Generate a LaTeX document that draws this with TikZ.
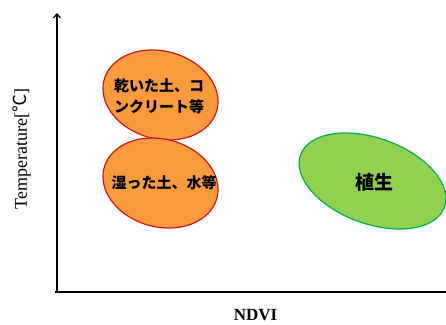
\documentclass[tikz,border=0pt]{standalone}
\usepackage{fontspec}
\setmainfont{Liberation Serif}
\newfontfamily\jp{Noto Sans CJK JP}
\usetikzlibrary{arrows.meta}
\definecolor{orfill}{HTML}{F89B3C}
\definecolor{ordraw}{HTML}{D01818}
\definecolor{grfill}{HTML}{92D050}
\definecolor{grdraw}{HTML}{00B050}
\tikzset{
  orblob/.style={fill=orfill,draw=ordraw,line width=1.2pt},
  grblob/.style={fill=grfill,draw=grdraw,line width=1.2pt},
  jptext/.style={font=\jp\bfseries\fontsize{15}{21}\selectfont,align=center,inner sep=0pt},
  axislabel/.style={inner sep=0pt}
}
\begin{document}
\begin{tikzpicture}[x=1pt,y=-1pt]
\useasboundingbox (0,0) rectangle (446,324);
% axes
\coordinate (o) at (57,292);
\coordinate (ytop) at (57,13);
\coordinate (xo) at (55,292);
\coordinate (xend) at (446,292);
\draw[line width=1.2pt,-{Straight Barb[length=4pt,width=7pt]}] (o) -- (ytop);
\draw[line width=2.4pt] (xo) -- (xend);
% ellipses
\coordinate (c1) at (160.5,95);
\coordinate (c2) at (160.5,183);
\coordinate (c3) at (372.5,181);
\draw[orblob,rotate around={-15:(c1)}] (c1) ellipse [x radius=58.4pt, y radius=43.9pt];
\draw[orblob,rotate around={-15:(c2)}] (c2) ellipse [x radius=58.4pt, y radius=43.9pt];
\draw[grblob,rotate around={-20:(c3)}] (c3) ellipse [x radius=76.6pt, y radius=42.8pt];
% texts
\node[jptext] (t1) at (159,96) {乾いた土、コ\\ンクリート等};
\node[jptext] (t2) at (164,183) {湿った土、水等};
\node[jptext,font=\jp\bfseries\fontsize{19}{22}\selectfont] (t3) at (374,182) {植生};
\node[axislabel,rotate=90,font=\fontsize{18}{20}\selectfont] (ylab) at (22,149) {Temperature[{\jp ℃}]};
\node[axislabel,font=\bfseries\fontsize{17}{20}\selectfont] (xlab) at (255.5,315) {NDVI};
\end{tikzpicture}
\end{document}
